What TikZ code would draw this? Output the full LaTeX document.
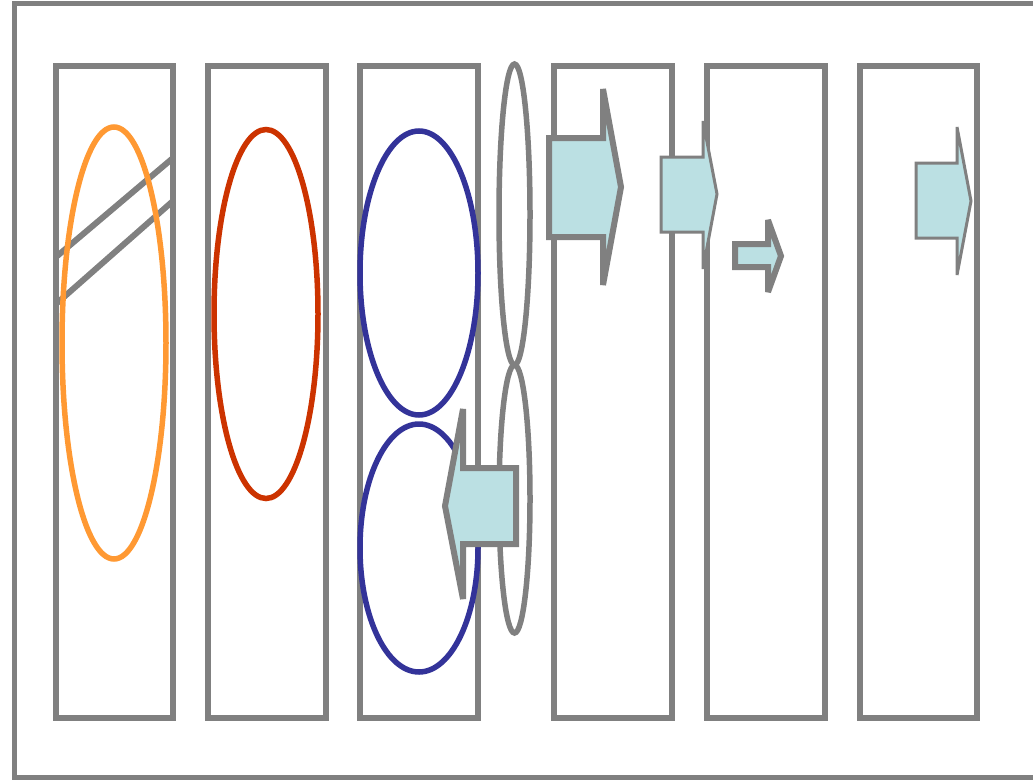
\documentclass[tikz,border=0pt]{standalone}
\usetikzlibrary{calc}
\definecolor{frame}{HTML}{808080}
\definecolor{orng}{HTML}{FF9933}
\definecolor{rust}{HTML}{CC3300}
\definecolor{navy}{HTML}{333399}
\definecolor{pale}{HTML}{BBE0E3}
\begin{document}
\begin{tikzpicture}[x=1pt,y=-1pt,
  panel/.style={draw=frame,line width=6pt},
  oval/.style={line width=5.5pt},
  thickarrow/.style={draw=frame,fill=pale,line width=6pt,line join=miter,miter limit=2},
  thinarrow/.style={draw=frame,fill=pale,line width=3pt,line join=miter,miter limit=2}]
\useasboundingbox (0,0) rectangle (1033,779);
% outer frame (right side beyond the picture)
\draw[frame,line width=5pt] (1060,3.5) -- (14,3.5) -- (14,777) -- (1060,777);
% panels
\foreach \xa/\xb/\n in {56/173/p1,208/326/p2,360/478/p3,554/672/p4,707/825/p5,860/977/p6}
  \draw[panel] (\xa,66) rectangle (\xb,718) coordinate (\n);
% diagonal lines in panel 1
\draw[frame,line width=6pt] (56,257) -- (173,158);
\draw[frame,line width=6pt] (56,304) -- (173,201);
% ellipses
\draw[oval,orng] (114,343) ellipse [x radius=52pt, y radius=216pt];
\draw[oval,rust] (266,314) ellipse [x radius=52pt, y radius=184.5pt];
\draw[oval,navy] (419,273) ellipse [x radius=59pt, y radius=142pt];
\draw[oval,navy] (419,548) ellipse [x radius=59pt, y radius=124pt];
\draw[oval,frame] (514.5,214.5) ellipse [x radius=15.5pt, y radius=150.5pt];
\draw[oval,frame] (514.5,499) ellipse [x radius=15.5pt, y radius=134pt];
% arrows
\draw[thickarrow] (549,138) -- (603,138) -- (603,89) -- (621,187) -- (603,285) -- (603,237) -- (549,237) -- cycle;
\draw[thinarrow] (661,157) -- (703,157) -- (703,121) -- (717,194) -- (703,269) -- (703,232) -- (661,232) -- cycle;
\draw[thickarrow] (735,244) -- (768,244) -- (768,220) -- (781,256) -- (768,292) -- (768,267) -- (735,267) -- cycle;
\draw[thinarrow] (916,163) -- (957,163) -- (957,127) -- (971,201) -- (957,275) -- (957,238) -- (916,238) -- cycle;
\draw[thickarrow] (516,468) -- (463,468) -- (463,409) -- (445,506) -- (463,599) -- (463,544) -- (516,544) -- cycle;
\end{tikzpicture}
\end{document}
